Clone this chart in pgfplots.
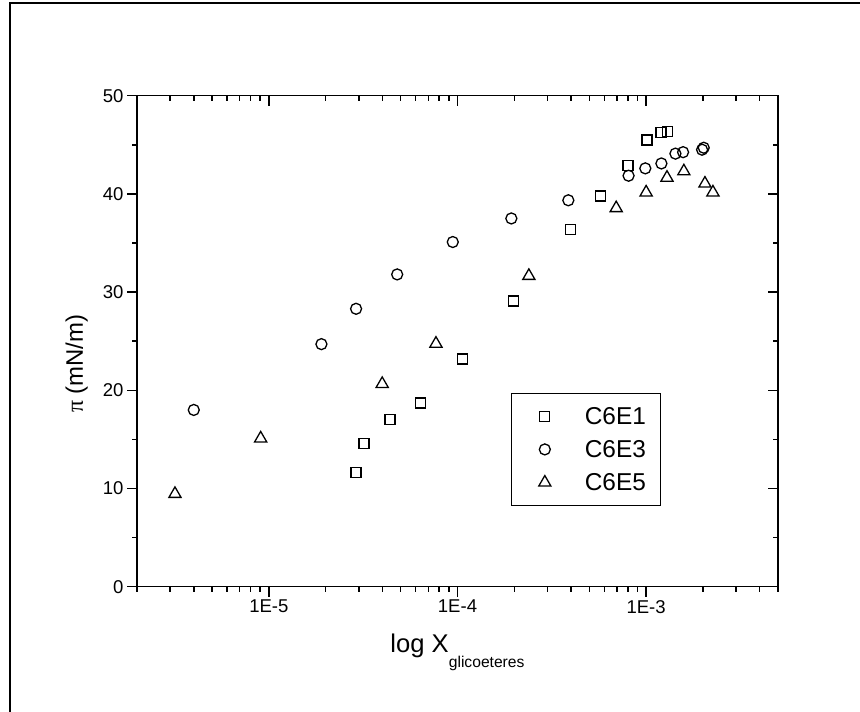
\documentclass[border=0pt]{standalone}
\usepackage{pgfplots}
\pgfplotsset{compat=1.18}
\usepackage{fontspec}
\setmainfont{Liberation Sans}
\newfontfamily\greekfont{Liberation Serif}
\newcommand{\tl}{\fontsize{18.6}{20}\selectfont}
\newcommand{\lf}{\fontsize{24.5}{28}\selectfont}
\pgfplotsset{myleg/.style={legend image code/.code={\path[draw=none] (0bp,0bp) -- (58bp,0bp); \draw[##1] plot coordinates {(20bp,0bp)};}}}
\begin{document}
\begin{tikzpicture}
\useasboundingbox (0,0) rectangle (860bp,712bp);
\draw[line width=2bp] (10bp,0bp) -- (10bp,709bp) -- (860bp,709bp);
\begin{axis}[
  at={(137bp,125.3bp)}, anchor=south west,
  scale only axis, width=641bp, height=491bp,
  xmode=log, xmin=2e-6, xmax=5e-3, ymin=0, ymax=50,
  axis line style={line width=1.6bp},
  major tick length=10bp, minor tick length=5bp,
  every tick/.style={black, line width=1.5bp},
  ytick={0,10,...,50}, minor ytick={5,15,...,45},
  xtick={1e-5,1e-4,1e-3},
  minor xtick={2e-6,3e-6,4e-6,5e-6,6e-6,7e-6,8e-6,9e-6,
               2e-5,3e-5,4e-5,5e-5,6e-5,7e-5,8e-5,9e-5,
               2e-4,3e-4,4e-4,5e-4,6e-4,7e-4,8e-4,9e-4,
               2e-3,3e-3,4e-3,5e-3},
  tick align=inside, xtick pos=right, ytick pos=right,
  xticklabels={}, yticklabels={}]
\end{axis}
\begin{axis}[
  at={(137bp,125.3bp)}, anchor=south west,
  scale only axis, width=641bp, height=491bp,
  xmode=log, xmin=2e-6, xmax=5e-3, ymin=0, ymax=50,
  axis line style={line width=1.6bp},
  major tick length=10bp, minor tick length=5bp,
  every tick/.style={black, line width=1.5bp},
  ytick={0,10,...,50}, minor ytick={5,15,...,45},
  xtick={1e-5,1e-4,1e-3},
  minor xtick={2e-6,3e-6,4e-6,5e-6,6e-6,7e-6,8e-6,9e-6,
               2e-5,3e-5,4e-5,5e-5,6e-5,7e-5,8e-5,9e-5,
               2e-4,3e-4,4e-4,5e-4,6e-4,7e-4,8e-4,9e-4,
               2e-3,3e-3,4e-3,5e-3},
  tick align=outside, xtick pos=left, ytick pos=left,
  xticklabels={\tl 1E-5,\tl 1E-4,\tl 1E-3},
  yticklabels={\tl 0,\tl 10,\tl 20,\tl 30,\tl 40,\tl 50},
  xlabel={\fontsize{25.7}{28}\selectfont log X\raisebox{-15bp}{\fontsize{15.7}{16}\selectfont glicoeteres}},
  xlabel style={at={(axis description cs:0.5,-0.133)}, anchor=base},
  ylabel={\fontsize{24}{26}\selectfont{\greekfont π} (mN/m)},
  ylabel style={at={(axis description cs:-0.094,0.454)}, anchor=center},
  legend style={at={(axis description cs:0.584,0.3955)}, anchor=north west,
    draw=black, line width=1bp, inner xsep=13bp, inner ysep=12bp,
    nodes={inner sep=2bp, text depth=0.15em},
    row sep=10.6bp},
  legend cell align=left,
  clip=false]
\addplot[only marks, mark=square, mark size=5bp, mark options={black, line width=1.3bp}, myleg] coordinates {
(2.90e-5,11.6) (3.19e-5,14.6) (4.38e-5,17.0) (6.38e-5,18.7) (1.065e-4,23.2)
(1.98e-4,29.1) (3.97e-4,36.4) (5.74e-4,39.8) (8.02e-4,42.9) (1.01e-3,45.5)
(1.20e-3,46.25) (1.30e-3,46.35)};
\addlegendentry{\lf C6E1}
\addplot[only marks, mark=o, mark size=5.5bp, mark options={black, line width=1.3bp}, myleg] coordinates {
(4.0e-6,18.0) (1.90e-5,24.7) (2.9e-5,28.3) (4.79e-5,31.8) (9.44e-5,35.1)
(1.93e-4,37.5) (3.87e-4,39.35) (8.07e-4,41.85) (9.9e-4,42.6) (1.205e-3,43.1)
(1.43e-3,44.1) (1.57e-3,44.25) (1.98e-3,44.5) (2.02e-3,44.7)};
\addlegendentry{\lf C6E3}
\addplot[only marks, mark=triangle, mark size=7bp, mark options={black, line width=1.3bp}, myleg] coordinates {
(3.18e-6,9.45) (9.05e-6,15.1) (3.99e-5,20.65) (7.69e-5,24.75) (2.39e-4,31.65)
(6.94e-4,38.55) (1.0e-3,40.15) (1.29e-3,41.65) (1.585e-3,42.3) (2.05e-3,41.05)
(2.26e-3,40.15)};
\addlegendentry{\lf C6E5}
\end{axis}
\end{tikzpicture}
\end{document}
